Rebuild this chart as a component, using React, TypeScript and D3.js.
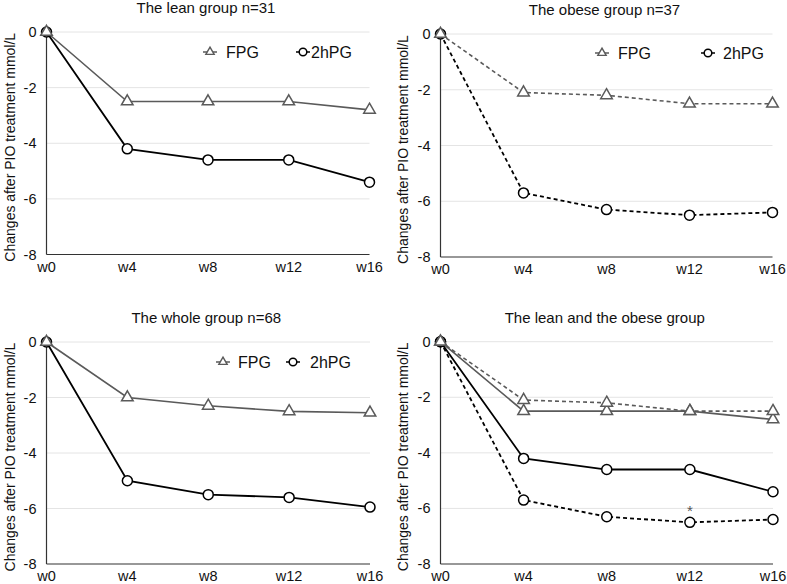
import React from "react";
import * as d3 from "d3";

const weeks = ["w0", "w4", "w8", "w12", "w16"];
const yTicks = [0, -2, -4, -6, -8];
const leanFPG = [0, -2.5, -2.5, -2.5, -2.8];
const lean2hPG = [0, -4.2, -4.6, -4.6, -5.4];
const obeseFPG = [0, -2.1, -2.2, -2.5, -2.5];
const obese2hPG = [0, -5.7, -6.3, -6.5, -6.4];
const wholeFPG = [0, -2.0, -2.3, -2.5, -2.55];
const whole2hPG = [0, -5.0, -5.5, -5.6, -5.95];
const titles = [
  "The lean group n=31",
  "The obese group n=37",
  "The whole group n=68",
  "The lean and the obese group",
];
const yLabel = "Changes after PIO treatment mmol/L";
const legendNames = ["FPG", "2hPG"];

const FONT = "'Liberation Sans', Arial, Helvetica, sans-serif";
const GRAY = "#5a5a5a";

type Series = { values: number[]; kind: "fpg" | "2h"; dashed: boolean };

type PanelDef = {
  title: string;
  x0: number; x1: number; y0: number; y1: number;
  series: Series[];
  legend?: { tri: number; fpgText: number; circ: number; hText: number; y: number };
  star?: { week: string; value: number };
};

const panels: PanelDef[] = [
  {
    title: titles[0], x0: 46.5, x1: 369.5, y0: 32, y1: 254.5,
    series: [
      { values: leanFPG, kind: "fpg", dashed: false },
      { values: lean2hPG, kind: "2h", dashed: false },
    ],
    legend: { tri: 210, fpgText: 226, circ: 303, hText: 311, y: 52 },
  },
  {
    title: titles[1], x0: 440.5, x1: 772.5, y0: 34, y1: 257,
    series: [
      { values: obeseFPG, kind: "fpg", dashed: true },
      { values: obese2hPG, kind: "2h", dashed: true },
    ],
    legend: { tri: 602, fpgText: 618, circ: 708, hText: 723, y: 53 },
  },
  {
    title: titles[2], x0: 46.5, x1: 370, y0: 342, y1: 564,
    series: [
      { values: wholeFPG, kind: "fpg", dashed: false },
      { values: whole2hPG, kind: "2h", dashed: false },
    ],
    legend: { tri: 223, fpgText: 238, circ: 293, hText: 310, y: 362 },
  },
  {
    title: titles[3], x0: 440.5, x1: 773, y0: 341.7, y1: 564,
    series: [
      { values: obeseFPG, kind: "fpg", dashed: true },
      { values: leanFPG, kind: "fpg", dashed: false },
      { values: obese2hPG, kind: "2h", dashed: true },
      { values: lean2hPG, kind: "2h", dashed: false },
    ],
    star: { week: "w12", value: -6.5 },
  },
];

const triPath = d3.symbol(d3.symbolTriangle, 58)() as string;
const triSmall = d3.symbol(d3.symbolTriangle, 30)() as string;

function Panel({ p }: { p: PanelDef }) {
  const x = d3.scalePoint<string>().domain(weeks).range([p.x0, p.x1]);
  const y = d3.scaleLinear().domain([-8, 0]).range([p.y1, p.y0]);
  const line = d3
    .line<number>()
    .x((_, i) => x(weeks[i]) as number)
    .y((d) => y(d));
  const cx = (p.x0 + p.x1) / 2;
  const yMid = (p.y0 + p.y1) / 2 + 4;
  const labelX = p.x0 < 200 ? 10 : 403;
  return (
    <g>
      <text x={cx - 2} y={p.y0 - 19} textAnchor="middle" fontSize={15} fill="#111">
        {p.title}
      </text>
      {yTicks.map((t) => (
        <g key={t}>
          {t > -8 && (
            <line x1={p.x0} x2={p.x1} y1={y(t)} y2={y(t)} stroke="#e4e4e4" strokeWidth={1} />
          )}
          <text x={p.x0 - 10} y={y(t) + 5} textAnchor="end" fontSize={14.5} fill="#111">
            {t}
          </text>
        </g>
      ))}
      <line x1={p.x0} x2={p.x0} y1={p.y0} y2={p.y1} stroke="#333" strokeWidth={1.2} />
      <line x1={p.x0} x2={p.x1} y1={p.y1} y2={p.y1} stroke="#333" strokeWidth={1.2} />
      {weeks.map((w) => (
        <text key={w} x={x(w)} y={p.y1 + 17} textAnchor="middle" fontSize={14.5} fill="#111">
          {w}
        </text>
      ))}
      <text
        transform={`translate(${labelX + 5},${yMid}) rotate(-90)`}
        textAnchor="middle"
        fontSize={14}
        fill="#111"
      >
        {yLabel}
      </text>
      {p.series.map((s, si) => (
        <path
          key={"l" + si}
          d={line(s.values) as string}
          fill="none"
          stroke={s.kind === "fpg" ? GRAY : "#000"}
          strokeWidth={s.kind === "fpg" ? 1.6 : 1.8}
          strokeDasharray={s.dashed ? "4,3" : undefined}
        />
      ))}
      {[...p.series].reverse().map((s, si) =>
        s.values.map((v, i) =>
          s.kind === "fpg" ? (
            <path
              key={`m${si}-${i}`}
              d={triPath}
              transform={`translate(${x(weeks[i])},${y(v)})`}
              fill="#fff"
              stroke={GRAY}
              strokeWidth={1.5}
            />
          ) : (
            <circle
              key={`m${si}-${i}`}
              cx={x(weeks[i])}
              cy={y(v)}
              r={5}
              fill="#fff"
              stroke="#000"
              strokeWidth={1.5}
            />
          )
        )
      )}
      {p.legend && (
        <g fontSize={16} fill="#111">
          <line x1={p.legend.tri - 7} x2={p.legend.tri + 7} y1={p.legend.y} y2={p.legend.y} stroke={GRAY} strokeWidth={1.5} />
          <path d={triSmall} transform={`translate(${p.legend.tri},${p.legend.y})`} fill="#fff" stroke={GRAY} strokeWidth={1.4} />
          <text x={p.legend.fpgText} y={p.legend.y + 6}>{legendNames[0]}</text>
          <line x1={p.legend.circ - 7} x2={p.legend.circ + 7} y1={p.legend.y} y2={p.legend.y} stroke="#000" strokeWidth={1.5} />
          <circle cx={p.legend.circ} cy={p.legend.y} r={3.8} fill="#fff" stroke="#000" strokeWidth={1.5} />
          <text x={p.legend.hText} y={p.legend.y + 6}>{legendNames[1]}</text>
        </g>
      )}
      {p.star && (
        <text x={x(p.star.week)} y={y(p.star.value) - 6} textAnchor="middle" fontSize={15} fill="#555">
          *
        </text>
      )}
    </g>
  );
}

export default function App() {
  return (
    <svg
      width={787}
      height={584}
      style={{ position: "absolute", left: 0, top: 0, background: "#fff" }}
      fontFamily={FONT}
    >
      <rect width={787} height={584} fill="#fff" />
      {panels.map((p, i) => (
        <Panel key={i} p={p} />
      ))}
    </svg>
  );
}
